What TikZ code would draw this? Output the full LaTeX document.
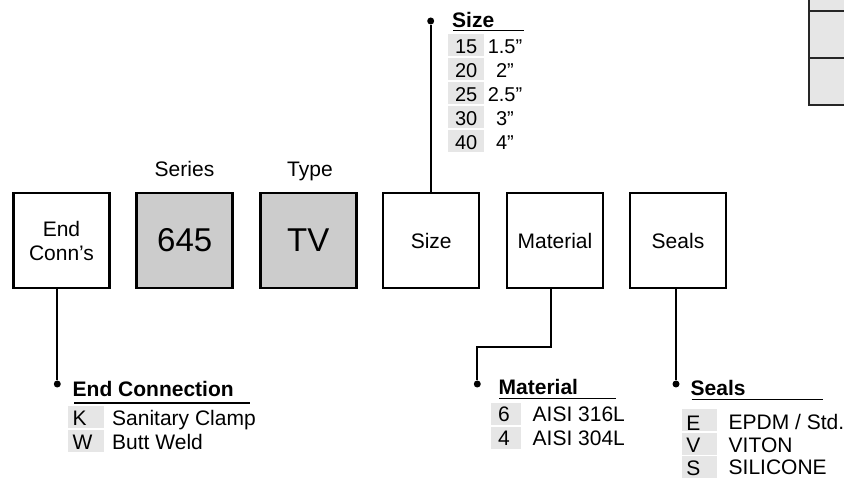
\documentclass[tikz,border=0pt]{standalone}
\usepackage{fontspec}
\setmainfont{Liberation Sans}
\definecolor{boxgrey}{HTML}{CCCCCC}
\definecolor{cellgrey}{HTML}{E6E6E6}
\begin{document}
\begin{tikzpicture}[x=1pt,y=-1pt]
\tikzstyle{box}=[rectangle,draw=black,line width=2.5pt,minimum width=96pt,minimum height=95pt,inner sep=0pt,align=center,font=\fontsize{21}{24}\selectfont]
\tikzstyle{box_grey}=[box,fill=boxgrey,font=\fontsize{33}{36}\selectfont]
\tikzstyle{head}=[anchor=base,inner sep=0pt,font=\fontsize{21}{24}\selectfont]
\tikzstyle{dot}=[circle,fill=black,inner sep=0pt,minimum size=7pt]
\tikzstyle{wire}=[line width=2pt]
\tikzstyle{title}=[anchor=base west,inner sep=0pt,font=\fontsize{21}{24}\selectfont\bfseries]
\tikzstyle{rule}=[line width=1.3pt]
\tikzstyle{cell}=[fill=cellgrey,anchor=north west,inner ysep=0pt,inner xsep=4.5pt,text height=19.5pt,text depth=2.5pt,align=left,font=\fontsize{21}{24}\selectfont]
\tikzstyle{txt}=[anchor=base west,inner sep=0pt,font=\fontsize{21}{24}\selectfont]
\useasboundingbox (0,0) rectangle (844,478);
% order code boxes
\node [box] (B1) at (61.5,240.5) {End\\Conn’s};
\node [box_grey] (B2) at (184.7,240.5) {645};
\node [box_grey] (B3) at (308.3,240.5) {TV};
\node [box] (B4) at (431.2,240.5) {Size};
\node [box] (B5) at (555,240.5) {Material};
\node [box] (B6) at (678,240.5) {Seals};
\node [head] (H2) at (184.5,176.7) {Series};
\node [head] (H3) at (310,176.7) {Type};
% leaders
\node [dot] (D1) at (57.3,384) {}
edge [wire] (D1 |- B1.south);
\node [dot] (D2) at (430.7,21) {}
edge [wire] (D2 |- B4.north);
\node [dot] (D3) at (477.3,384) {};
\coordinate (M1) at (550.7,347.3);
\draw [wire] (D3) |- (M1) -- (M1 |- B5.south);
\node [dot] (D4) at (676,384) {}
edge [wire] (D4 |- B6.south);
% end connection
\node [title] (T1) at (72.5,396.7) {End Connection};
\draw [rule] (T1.base west) ++(1.5,6.3) -- ++(176,0);
\node [cell,text width=27pt] (K1) at (68,406) {K};
\node [cell,text width=27pt] (K2) at (68,430) {W};
\node [txt] (E1) at (112,425.5) {Sanitary Clamp};
\node [txt] (E2) at (112,449.5) {Butt Weld};
% size
\node [title] (T2) at (452,27.7) {Size};
\draw [rule] (T2.base west) ++(1,3) -- ++(71,0);
\node [cell,text width=26pt,align=center,inner xsep=5pt,text height=19.3pt,font=\fontsize{20}{24}\selectfont] (S1) at (448,34) {15};
\node [cell,text width=26pt,align=center,inner xsep=5pt,text height=19.3pt,font=\fontsize{20}{24}\selectfont] (S2) at (448,58) {20};
\node [cell,text width=26pt,align=center,inner xsep=5pt,text height=19.3pt,font=\fontsize{20}{24}\selectfont] (S3) at (448,82) {25};
\node [cell,text width=26pt,align=center,inner xsep=5pt,text height=19.3pt,font=\fontsize{20}{24}\selectfont] (S4) at (448,106) {30};
\node [cell,text width=26pt,align=center,inner xsep=5pt,text height=19.3pt,font=\fontsize{20}{24}\selectfont] (S5) at (448,130) {40};
\node [txt,anchor=base,font=\fontsize{20}{24}\selectfont] (V1) at (505,53.3) {1.5”};
\node [txt,anchor=base,font=\fontsize{20}{24}\selectfont] (V2) at (505,77.3) {2”};
\node [txt,anchor=base,font=\fontsize{20}{24}\selectfont] (V3) at (505,101.3) {2.5”};
\node [txt,anchor=base,font=\fontsize{20}{24}\selectfont] (V4) at (505,125.3) {3”};
\node [txt,anchor=base,font=\fontsize{20}{24}\selectfont] (V5) at (505,149.3) {4”};
% material
\node [title] (T3) at (498.5,395) {Material};
\draw [rule] (T3.base west) ++(0.5,3.3) -- ++(117,0);
\node [cell,text width=16pt,inner xsep=7pt,text height=19pt,text depth=3pt] (M6) at (491,402.7) {6};
\node [cell,text width=16pt,inner xsep=7pt,text height=19pt,text depth=3pt] (M4) at (491,426.7) {4};
\node [txt] (A1) at (532.5,421.7) {AISI 316L};
\node [txt] (A2) at (532.5,445.7) {AISI 304L};
% seals
\node [title] (T4) at (690.5,395.7) {Seals};
\draw [rule] (T4.base west) ++(1.2,3.6) -- ++(131.6,0);
\node [cell,text width=26pt,text height=21pt,text depth=1pt] (L1) at (681.7,409) {E};
\node [cell,text width=26pt,text height=20pt,text depth=2pt] (L2) at (681.7,432.5) {V};
\node [cell,text width=26pt,text height=19pt,text depth=3pt] (L3) at (681.7,456) {S};
\node [txt] (P1) at (728.5,430) {EPDM / Std.};
\node [txt] (P2) at (728.5,452.5) {VITON};
\node [txt] (P3) at (728.5,475) {SILICONE};
% table corner, top right
\fill [cellgrey] (809,-2) rectangle (848,105);
\draw [line width=1.5pt,black!85] (809,-2) -- (809,105) -- (848,105);
\draw [line width=1.5pt,black!85] (809,11) -- (848,11);
\draw [line width=1.5pt,black!85] (809,58) -- (848,58);
\end{tikzpicture}
\end{document}
